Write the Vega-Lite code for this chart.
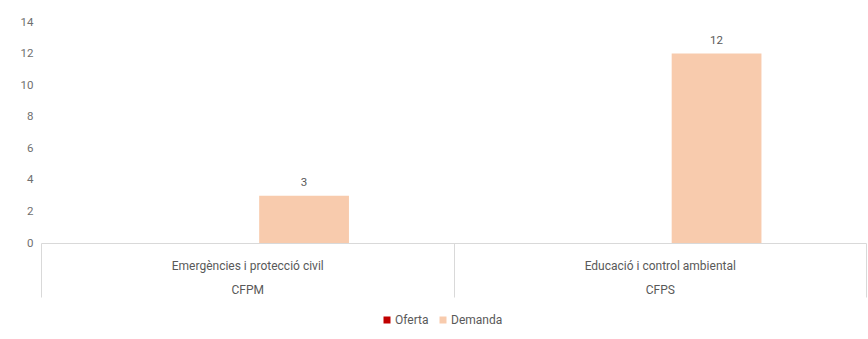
{
  "$schema": "https://vega.github.io/schema/vega-lite/v6.json",
  "autosize": {"type": "none"},
  "width": 825,
  "height": 221,
  "padding": {"left": 41, "top": 22, "right": 2, "bottom": 96},
  "background": "white",
  "config": {
    "view": {"stroke": null},
    "font": "Liberation Sans Narrow, Roboto, sans-serif"
  },
  "data": {
    "values": [
      {"cat": "Emergències i protecció civil|CFPM", "serie": "Oferta", "valor": 0},
      {"cat": "Emergències i protecció civil|CFPM", "serie": "Demanda", "valor": 3},
      {"cat": "Educació i control ambiental|CFPS", "serie": "Oferta", "valor": 0},
      {"cat": "Educació i control ambiental|CFPS", "serie": "Demanda", "valor": 12}
    ]
  },
  "encoding": {
    "x": {
      "field": "cat",
      "type": "nominal",
      "sort": null,
      "scale": {"paddingInner": 0, "paddingOuter": 0},
      "axis": {
        "title": null,
        "labelAngle": 0,
        "labelExpr": "datum.value ? split(datum.value, '|') : ''",
        "labelLineHeight": 24,
        "labelFontSize": 12,
        "labelColor": "#595959",
        "labelBaseline": "middle",
        "tickBand": "extent",
        "tickSize": 54,
        "tickColor": "#d9d9d9",
        "domainColor": "#d9d9d9",
        "labelPadding": -32
      }
    },
    "xOffset": {
      "field": "serie",
      "type": "nominal",
      "sort": ["Oferta", "Demanda"],
      "scale": {"paddingInner": 0.21, "paddingOuter": 0.92}
    },
    "y": {
      "field": "valor",
      "type": "quantitative",
      "scale": {"domain": [0, 14]},
      "axis": {
        "title": null,
        "values": [0, 2, 4, 6, 8, 10, 12, 14],
        "grid": false,
        "domain": false,
        "ticks": false,
        "labelPadding": 8,
        "labelFontSize": 11.5,
        "labelColor": "#6f6f6f"
      }
    }
  },
  "layer": [
    {
      "mark": {"type": "bar"},
      "encoding": {
        "color": {
          "field": "serie",
          "type": "nominal",
          "sort": ["Oferta", "Demanda"],
          "scale": {"domain": ["Oferta", "Demanda"], "range": ["#C00000", "#F8CBAD"]},
          "legend": {
            "title": null,
            "orient": "none",
            "direction": "horizontal",
            "legendX": 340,
            "legendY": 292,
            "symbolType": "square",
            "symbolSize": 49,
            "symbolStrokeWidth": 0,
            "labelFontSize": 12,
            "labelColor": "#595959",
            "labelOffset": 2,
            "columnPadding": 8
          }
        }
      }
    },
    {
      "transform": [{"filter": "datum.valor > 0"}],
      "mark": {"type": "text", "baseline": "bottom", "dy": -8, "fontSize": 11.5, "color": "#595959"},
      "encoding": {"text": {"field": "valor", "type": "quantitative"}}
    }
  ]
}
